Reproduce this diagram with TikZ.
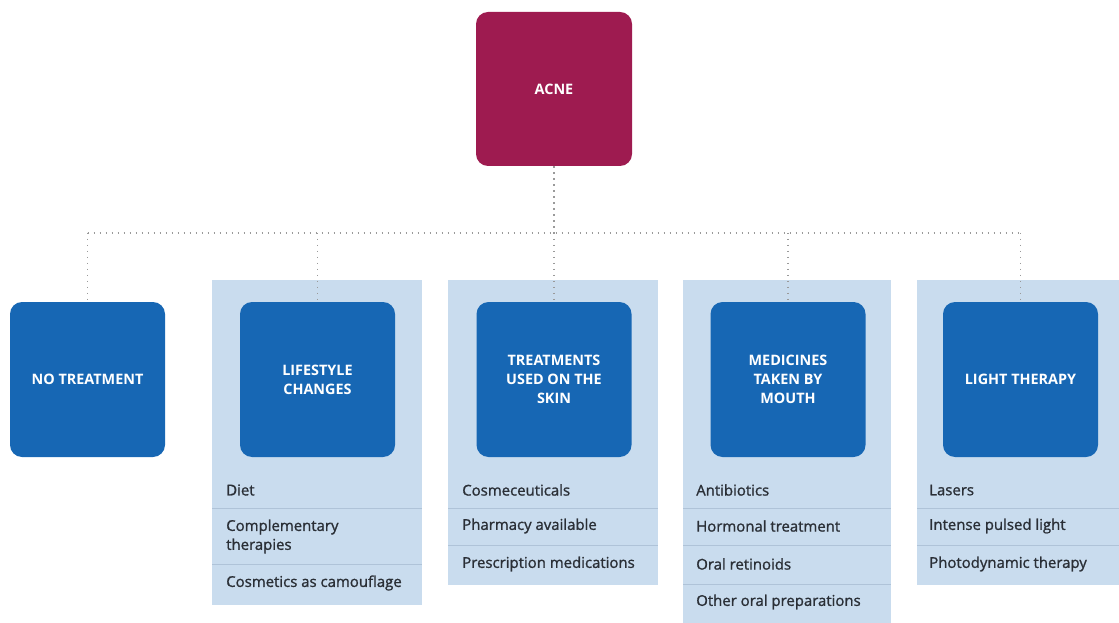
\documentclass[tikz,border=0pt]{standalone}
\usepackage{fontspec}
\setmainfont{Open Sans}
\newfontfamily\itemfont{Open Sans}[FakeBold=1.2]
\definecolor{acnec}{HTML}{9E1B50}
\definecolor{boxc}{HTML}{1767B4}
\definecolor{panelc}{HTML}{C9DCEE}
\definecolor{sepc}{HTML}{AFC3D8}
\definecolor{itemc}{HTML}{2A2F36}
\definecolor{dotc}{HTML}{9A9A9A}
\begin{document}
\begin{tikzpicture}[x=0.75pt,y=-0.75pt,
  topic/.style={fill=boxc, rounded corners=9pt, minimum width=116.25pt, minimum height=116.25pt,
    inner sep=0pt, text=white, align=center, font=\fontsize{10.8}{14.2}\selectfont\bfseries},
  root/.style={topic, fill=acnec, minimum width=117pt, minimum height=115.5pt},
  item/.style={anchor=west, inner sep=0pt, align=left, text=itemc,
    font=\itemfont\fontsize{11.2}{14.2}\selectfont},
  panel/.style={fill=panelc, draw=none},
  sepline/.style={draw=sepc, line width=0.6pt},
  link/.style={draw=dotc, line width=1.1pt, dash pattern=on 1.1pt off 3.4pt}]
\useasboundingbox (0,0) rectangle (1119,623);
% panels
\path[panel] (212,280) rectangle (422,605);
\path[panel] (448,280) rectangle (658,585);
\path[panel] (683,280) rectangle (891,623);
\path[panel] (917,280) rectangle (1119,585);
% separators
\draw[sepline] (212,508) -- (422,508);
\draw[sepline] (212,564) -- (422,564);
\draw[sepline] (448,508) -- (658,508);
\draw[sepline] (448,545) -- (658,545);
\draw[sepline] (683,508) -- (891,508);
\draw[sepline] (683,545) -- (891,545);
\draw[sepline] (683,584) -- (891,584);
\draw[sepline] (917,508) -- (1119,508);
\draw[sepline] (917,545) -- (1119,545);
% nodes
\node[root] (acne) at (554,89) {ACNE};
\node[topic] (none) at (87.5,379.5) {NO TREATMENT};
\node[topic] (life) at (317.5,379.5) {LIFESTYLE\\CHANGES};
\node[topic] (skin) at (554,379.5) {TREATMENTS\\USED ON THE\\SKIN};
\node[topic] (mouth) at (788,379.5) {MEDICINES\\TAKEN BY\\MOUTH};
\node[topic] (light) at (1020.5,379.5) {LIGHT THERAPY};
% connectors
\coordinate (bus) at (554,233);
\draw[link] (acne.south) -- (bus);
\draw[link] (none.north |- bus) -- (light.north |- bus);
\draw[link] (none.north |- bus) -- (none.north);
\draw[link] (life.north |- bus) -- (life.north);
\draw[link] (bus) -- (skin.north);
\draw[link] (mouth.north |- bus) -- (mouth.north);
\draw[link] (light.north |- bus) -- (light.north);
% items
\node[item] (l1) at (226,490) {Diet};
\node[item] (l2) at (226,536.5) {Complementary\\therapies};
\node[item] (l3) at (226,583) {Cosmetics as camouflage};
\node[item] (s1) at (462,490) {Cosmeceuticals};
\node[item] (s2) at (462,526) {Pharmacy available};
\node[item] (s3) at (462,564) {Prescription medications};
\node[item] (m1) at (696,490) {Antibiotics};
\node[item] (m2) at (696,526) {Hormonal treatment};
\node[item] (m3) at (696,564) {Oral retinoids};
\node[item] (m4) at (696,602) {Other oral preparations};
\node[item] (t1) at (929,490) {Lasers};
\node[item] (t2) at (929,526) {Intense pulsed light};
\node[item] (t3) at (929,564) {Photodynamic therapy};
\end{tikzpicture}
\end{document}
